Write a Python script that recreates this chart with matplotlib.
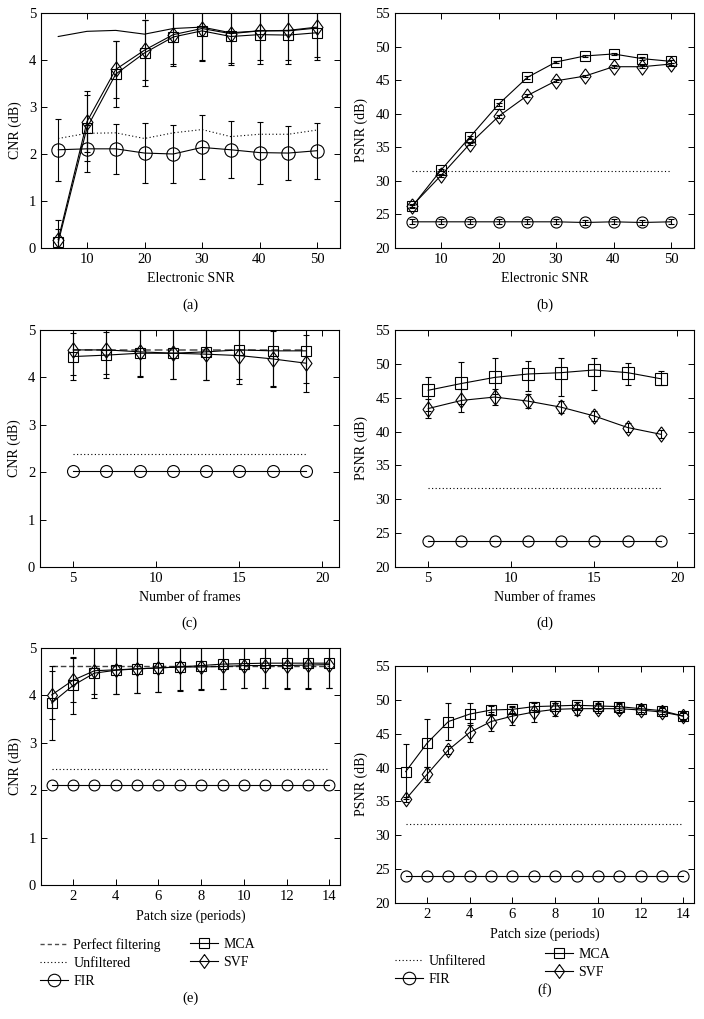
import matplotlib
matplotlib.use("Agg")
import matplotlib.pyplot as plt
from matplotlib.lines import Line2D

plt.rcParams['font.family'] = ['Liberation Serif', 'DejaVu Serif']
plt.rcParams['font.size'] = 10

# ---------------- data ----------------
snr = [5, 10, 15, 20, 25, 30, 35, 40, 45, 50]
a_perfect = [4.50, 4.61, 4.63, 4.55, 4.67, 4.70, 4.58, 4.62, 4.62, 4.68]
a_unfilt = [2.33, 2.44, 2.45, 2.33, 2.45, 2.52, 2.37, 2.42, 2.42, 2.51]
a_fir = [2.09, 2.11, 2.11, 2.02, 2.00, 2.14, 2.09, 2.03, 2.02, 2.07]
a_fir_err = [0.66, 0.50, 0.53, 0.64, 0.61, 0.68, 0.61, 0.66, 0.58, 0.60]
a_mca = [0.12, 2.56, 3.70, 4.15, 4.49, 4.62, 4.50, 4.54, 4.53, 4.58]
a_mca_err = [0.28, 0.70, 0.70, 0.71, 0.62, 0.64, 0.61, 0.62, 0.61, 0.59]
a_svf = [0.18, 2.69, 3.80, 4.21, 4.54, 4.67, 4.56, 4.62, 4.63, 4.70]
a_svf_err = [0.42, 0.65, 0.60, 0.64, 0.62, 0.66, 0.62, 0.62, 0.63, 0.63]

b_unfilt = [31.5, 31.5, 31.5, 31.5, 31.5, 31.5, 31.5, 31.5, 31.5, 31.5]
b_fir = [23.9, 23.9, 23.9, 23.9, 23.9, 23.9, 23.8, 23.9, 23.8, 23.9]
b_fir_err = [0.35, 0.35, 0.35, 0.35, 0.35, 0.35, 0.35, 0.35, 0.35, 0.35]
b_mca = [26.2, 31.6, 36.5, 41.4, 45.4, 47.7, 48.6, 48.9, 48.2, 47.8]
b_mca_err = [0.2, 0.2, 0.2, 0.2, 0.2, 0.2, 0.2, 0.2, 0.2, 0.2]
b_svf = [26.3, 30.8, 35.5, 39.6, 42.7, 44.9, 45.6, 47.0, 47.0, 47.4]
b_svf_err = [0.2, 0.2, 0.2, 0.2, 0.2, 0.2, 0.2, 0.2, 0.2, 0.2]

frames = [5, 7, 9, 11, 13, 15, 17, 19]
c_perfect = [4.58, 4.58, 4.58, 4.58, 4.58, 4.58, 4.58, 4.58]
c_unfilt = [2.39, 2.39, 2.39, 2.39, 2.39, 2.39, 2.39, 2.39]
c_fir = [2.03, 2.03, 2.03, 2.03, 2.03, 2.03, 2.03, 2.03]
c_mca = [4.44, 4.47, 4.51, 4.51, 4.54, 4.58, 4.56, 4.56]
c_mca_err = [0.50, 0.48, 0.50, 0.55, 0.60, 0.62, 0.76, 0.67]
c_svf = [4.58, 4.58, 4.54, 4.51, 4.49, 4.46, 4.39, 4.30]
c_svf_err = [0.52, 0.50, 0.52, 0.55, 0.55, 0.60, 0.58, 0.60]

d_unfilt = [31.6, 31.6, 31.6, 31.6, 31.6, 31.6, 31.6, 31.6]
d_fir = [23.9, 23.9, 23.9, 23.9, 23.9, 23.9, 23.9, 23.9]
d_mca = [46.1, 47.1, 48.0, 48.5, 48.7, 49.1, 48.7, 47.8]
d_mca_lo = [3.0, 3.0, 2.5, 2.5, 3.5, 3.0, 1.8, 0.9]
d_mca_hi = [1.9, 3.2, 2.8, 1.9, 2.2, 1.7, 1.4, 1.2]
d_svf = [43.4, 44.6, 45.1, 44.5, 43.6, 42.3, 40.6, 39.6]
d_svf_err = [1.4, 1.7, 1.2, 1.0, 0.9, 0.7, 0.6, 0.6]

patch = [1, 2, 3, 4, 5, 6, 7, 8, 9, 10, 11, 12, 13, 14]
e_perfect = [4.62, 4.62, 4.62, 4.62, 4.62, 4.62, 4.62, 4.62, 4.62, 4.62, 4.62, 4.62, 4.62, 4.62]
e_unfilt = [2.45, 2.45, 2.45, 2.45, 2.45, 2.45, 2.45, 2.45, 2.45, 2.45, 2.45, 2.45, 2.45, 2.45]
e_fir = [2.10, 2.10, 2.10, 2.10, 2.10, 2.10, 2.10, 2.10, 2.10, 2.10, 2.10, 2.10, 2.10, 2.10]
e_mca = [3.84, 4.21, 4.47, 4.53, 4.56, 4.58, 4.60, 4.63, 4.66, 4.67, 4.68, 4.68, 4.68, 4.68]
e_mca_err = [0.78, 0.60, 0.52, 0.50, 0.50, 0.50, 0.50, 0.50, 0.52, 0.52, 0.52, 0.52, 0.52, 0.52]
e_svf = [4.01, 4.32, 4.52, 4.54, 4.56, 4.58, 4.60, 4.60, 4.61, 4.63, 4.63, 4.63, 4.64, 4.65]
e_svf_err = [0.50, 0.46, 0.50, 0.50, 0.50, 0.50, 0.48, 0.48, 0.48, 0.48, 0.48, 0.50, 0.50, 0.50]

f_unfilt = [31.7, 31.7, 31.7, 31.7, 31.7, 31.7, 31.7, 31.7, 31.7, 31.7, 31.7, 31.7, 31.7, 31.7]
f_fir = [24.0, 24.0, 24.0, 24.0, 24.0, 24.0, 24.0, 24.0, 24.0, 24.0, 24.0, 24.0, 24.0, 24.0]
f_mca = [39.4, 43.6, 46.8, 47.9, 48.5, 48.6, 49.0, 49.1, 49.2, 49.1, 49.0, 48.7, 48.4, 47.6]
f_mca_err = [4.1, 3.5, 2.7, 1.6, 0.6, 0.5, 0.5, 0.5, 0.5, 0.5, 0.5, 0.5, 0.5, 0.5]
f_svf = [35.3, 39.0, 42.6, 45.2, 46.8, 47.6, 48.2, 48.6, 48.7, 48.7, 48.7, 48.5, 48.2, 47.6]
f_svf_err = [0.4, 1.1, 0.6, 1.4, 1.4, 1.3, 1.5, 1.0, 1.0, 0.7, 0.7, 0.6, 0.6, 0.6]

# ---------------- styling ----------------
W, H = 704, 1019
fig = plt.figure(figsize=(W / 100, H / 100), dpi=100)

DIAMOND = [(0, 1), (0.72, 0), (0, -1), (-0.72, 0), (0, 1)]
LW = 0.8
ERR = dict(elinewidth=0.8, capsize=2.5, capthick=0.8, ecolor='black')
TICKSIZE = 10.5
LABELSIZE = 10


def add_axes(left, top, bottom, right):
    ax = fig.add_axes([left / W, 1 - bottom / H, (right - left) / W, (bottom - top) / H])
    ax.tick_params(direction='in', top=True, right=True, length=4, width=0.7, labelsize=TICKSIZE)
    for s in ax.spines.values():
        s.set_linewidth(0.8)
    return ax


def series(ax, x, y, err, marker, ms):
    if err is None:
        ax.plot(x, y, color='black', lw=LW, marker=marker, ms=ms, mfc='none', mec='black', mew=0.8)
    else:
        ax.errorbar(x, y, yerr=err, color='black', lw=LW, marker=marker, ms=ms,
                    mfc='none', mec='black', mew=0.8, **ERR)


def labels(ax, xl, yl):
    ax.set_xlabel(xl, fontsize=LABELSIZE, labelpad=4.5)
    ax.set_ylabel(yl, fontsize=LABELSIZE, labelpad=5)


def caption(ax, text, ypix):
    bb = ax.get_position()
    fig.text((bb.x0 + bb.x1) / 2, 1 - ypix / H, text, ha='center', va='center', fontsize=10.5)


DOT = (0, (1, 2.2))

# (a)
ax = add_axes(41, 13, 248, 340)
ax.plot(snr, a_perfect, color='black', lw=LW)
ax.plot(snr, a_unfilt, color='black', lw=LW, ls=DOT)
series(ax, snr, a_fir, a_fir_err, 'o', 9.6)
series(ax, snr, a_mca, a_mca_err, 's', 6.5)
series(ax, snr, a_svf, a_svf_err, DIAMOND, 11)
ax.set_xlim(2, 54)
ax.set_ylim(0, 5)
ax.set_xticks([10, 20, 30, 40, 50])
ax.set_yticks([0, 1, 2, 3, 4, 5])
labels(ax, 'Electronic SNR', 'CNR (dB)')
caption(ax, '(a)', 305)

# (b)
ax = add_axes(395, 13, 248, 694)
ax.plot(snr, b_unfilt, color='black', lw=LW, ls=DOT)
series(ax, snr, b_fir, b_fir_err, 'o', 8)
series(ax, snr, b_mca, b_mca_err, 's', 7.2)
series(ax, snr, b_svf, b_svf_err, DIAMOND, 11)
ax.set_xlim(2, 54)
ax.set_ylim(20, 55)
ax.set_xticks([10, 20, 30, 40, 50])
ax.set_yticks([20, 25, 30, 35, 40, 45, 50, 55])
labels(ax, 'Electronic SNR', 'PSNR (dB)')
caption(ax, '(b)', 305)

# (c)
ax = add_axes(40, 330, 567, 339)
ax.plot(frames, c_perfect, color='0.45', lw=1.4, ls=(0, (4, 2)))
ax.plot(frames, c_unfilt, color='black', lw=LW, ls=DOT)
series(ax, frames, c_fir, None, 'o', 8.6)
series(ax, frames, c_mca, c_mca_err, 's', 7.2)
series(ax, frames, c_svf, c_svf_err, DIAMOND, 11)
ax.set_xlim(3, 21)
ax.set_ylim(0, 5)
ax.set_xticks([5, 10, 15, 20])
ax.set_yticks([0, 1, 2, 3, 4, 5])
labels(ax, 'Number of frames', 'CNR (dB)')
caption(ax, '(c)', 623)

# (d)
ax = add_axes(395, 330, 567, 694)
ax.plot(frames, d_unfilt, color='black', lw=LW, ls=DOT)
series(ax, frames, d_fir, None, 'o', 8)
series(ax, frames, d_mca, [d_mca_lo, d_mca_hi], 's', 8)
series(ax, frames, d_svf, d_svf_err, DIAMOND, 11)
ax.set_xlim(3, 21)
ax.set_ylim(20, 55)
ax.set_xticks([5, 10, 15, 20])
ax.set_yticks([20, 25, 30, 35, 40, 45, 50, 55])
labels(ax, 'Number of frames', 'PSNR (dB)')
caption(ax, '(d)', 623)

# (e)
ax = add_axes(41, 648, 885, 340)
ax.plot(patch, e_perfect, color='0.25', lw=1.0, ls=(0, (4, 2)))
ax.plot(patch, e_unfilt, color='black', lw=LW, ls=DOT)
series(ax, patch, e_fir, None, 'o', 7.8)
series(ax, patch, e_mca, e_mca_err, 's', 6.5)
series(ax, patch, e_svf, e_svf_err, DIAMOND, 10)
ax.set_xlim(0.5, 14.5)
ax.set_ylim(0, 5)
ax.set_xticks([2, 4, 6, 8, 10, 12, 14])
ax.set_yticks([0, 1, 2, 3, 4, 5])
labels(ax, 'Patch size (periods)', 'CNR (dB)')
caption(ax, '(e)', 998)

# (f)
ax = add_axes(395, 666, 903, 694)
ax.plot(patch, f_unfilt, color='black', lw=LW, ls=DOT)
series(ax, patch, f_fir, None, 'o', 8)
series(ax, patch, f_mca, f_mca_err, 's', 6.7)
series(ax, patch, f_svf, f_svf_err, DIAMOND, 10.5)
ax.set_xlim(0.5, 14.5)
ax.set_ylim(20, 55)
ax.set_xticks([2, 4, 6, 8, 10, 12, 14])
ax.set_yticks([20, 25, 30, 35, 40, 45, 50, 55])
labels(ax, 'Patch size (periods)', 'PSNR (dB)')
caption(ax, '(f)', 990)

# ---------------- legends ----------------
h_perf = Line2D([], [], color='0.3', lw=1.0, ls=(0, (3, 2.2)))
h_unf = Line2D([], [], color='black', lw=LW, ls=DOT)
h_fir = Line2D([], [], color='black', lw=LW, marker='o', ms=9, mfc='none', mec='black', mew=0.8)
h_mca = Line2D([], [], color='black', lw=LW, marker='s', ms=7, mfc='none', mec='black', mew=0.8)
h_svf = Line2D([], [], color='black', lw=LW, marker=DIAMOND, ms=10, mfc='none', mec='black', mew=0.8)

LEG = dict(loc='upper left', frameon=False, borderpad=0, borderaxespad=0, handlelength=2.0,
           handletextpad=0.4, labelspacing=0.38, numpoints=1, fontsize=LABELSIZE)


def legend(handles, labs, xpix, ytop):
    fig.legend(handles, labs, bbox_to_anchor=(xpix / W, 1 - ytop / H), **LEG)


legend([h_perf, h_unf, h_fir], ['Perfect filtering', 'Unfiltered', 'FIR'], 40, 938)
legend([h_mca, h_svf], ['MCA', 'SVF'], 190, 938)
legend([h_unf, h_fir], ['Unfiltered', 'FIR'], 395, 955)
legend([h_mca, h_svf], ['MCA', 'SVF'], 545, 948)

fig.savefig('out.png', dpi=100)
